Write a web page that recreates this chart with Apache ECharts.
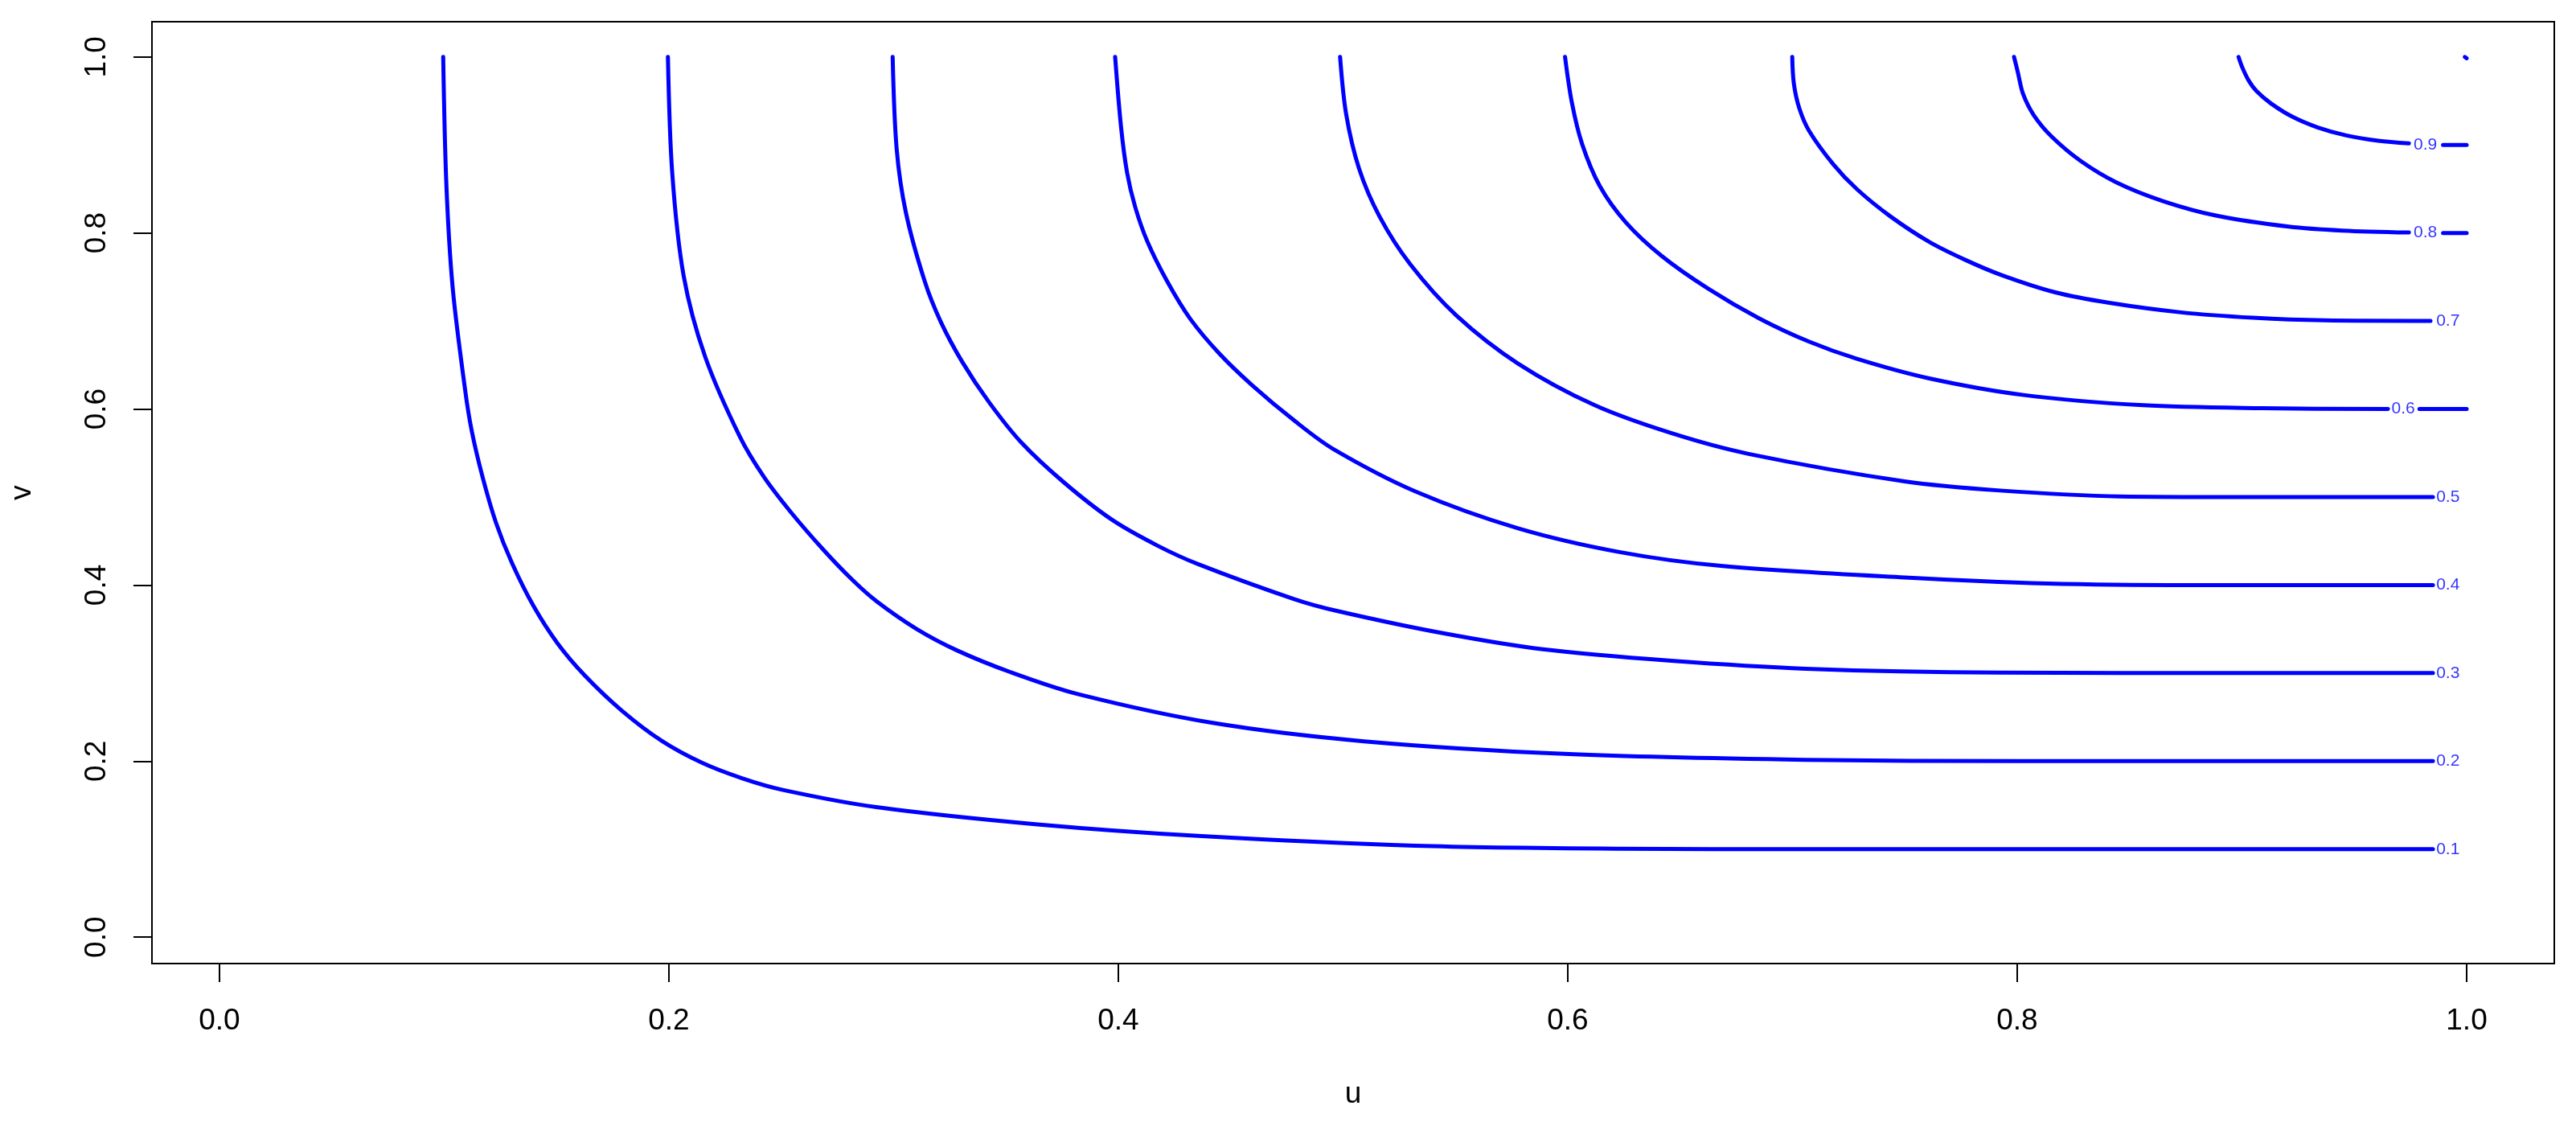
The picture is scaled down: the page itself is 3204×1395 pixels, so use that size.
<!DOCTYPE html>
<html>
<head>
<meta charset="utf-8">
<title>contour u v</title>
<script src="https://cdn.jsdelivr.net/npm/echarts@6/dist/echarts.min.js"></script>
<style>
html, body { margin: 0; padding: 0; background: #fff; }
#chart { width: 3204px; height: 1395px; }
</style>
</head>
<body>
<div id="chart"></div>
<script>
// contour levels and the points (u, v)
var levels = [0.1, 0.2, 0.3, 0.4, 0.5, 0.6, 0.7, 0.8, 0.9, 1.0];

var u1 = [0.0996, 0.1010, 0.1038, 0.1094, 0.1123, 0.1171, 0.1231, 0.1302, 0.1398, 0.1505, 0.1624, 0.1791, 0.1970, 0.2149, 0.2328, 0.2507, 0.2924, 0.3640, 0.4355, 0.5322, 0.6235, 0.706, 0.800, 0.985];
var v1 = [1.000, 0.8557, 0.7383, 0.6208, 0.5751, 0.5229, 0.4707, 0.4250, 0.3761, 0.3337, 0.2978, 0.2573, 0.2227, 0.1979, 0.1803, 0.1673, 0.1477, 0.1281, 0.1150, 0.1039, 0.1005, 0.1000, 0.1000, 0.1000];

var u2 = [0.1996, 0.2015, 0.2066, 0.2161, 0.2316, 0.2423, 0.2542, 0.2686, 0.2817, 0.2924, 0.3103, 0.3282, 0.3521, 0.3819, 0.4415, 0.5094, 0.6006, 0.7056, 0.800, 0.985];
var v2 = [1.000, 0.8688, 0.7513, 0.6599, 0.5686, 0.5229, 0.4831, 0.4406, 0.4058, 0.3816, 0.3500, 0.3258, 0.3010, 0.2762, 0.2436, 0.2225, 0.2080, 0.2015, 0.2000, 0.2000];

var u3 = [0.2996, 0.3014, 0.3055, 0.3139, 0.3210, 0.3306, 0.3425, 0.3568, 0.3759, 0.3973, 0.4176, 0.4355, 0.4785, 0.498, 0.544, 0.589, 0.646, 0.706, 0.792, 0.900, 0.985];
var v3 = [1.000, 0.8949, 0.8231, 0.7448, 0.6991, 0.6534, 0.6077, 0.5621, 0.5164, 0.4740, 0.4446, 0.4238, 0.3839, 0.3702, 0.3455, 0.327, 0.314, 0.305, 0.3005, 0.300, 0.300];

var u4 = [0.3986, 0.4012, 0.4039, 0.4075, 0.4129, 0.4218, 0.4320, 0.4451, 0.4594, 0.4785, 0.4957, 0.5322, 0.5779, 0.6235, 0.6691, 0.7499, 0.8136, 0.8772, 0.985];
var v4 = [1.000, 0.9211, 0.8688, 0.8297, 0.7905, 0.7448, 0.7025, 0.6626, 0.6274, 0.5865, 0.5545, 0.5064, 0.4645, 0.4373, 0.4216, 0.4086, 0.4018, 0.4000, 0.400];

var u5 = [0.4987, 0.5014, 0.5071, 0.5162, 0.5299, 0.5504, 0.5779, 0.6120, 0.6463, 0.6805, 0.7499, 0.7923, 0.8454, 0.8984, 0.985];
var v5 = [1.000, 0.9349, 0.8735, 0.8190, 0.7645, 0.7064, 0.6516, 0.6043, 0.5724, 0.5490, 0.5178, 0.5074, 0.5007, 0.5000, 0.500];

var u6 = [0.5988, 0.6018, 0.6064, 0.6143, 0.6258, 0.6417, 0.6622, 0.6851, 0.7074, 0.7287, 0.7605, 0.8029, 0.8560, 0.9091, 0.9650, 0.9790, 1.000];
var v6 = [1.000, 0.9486, 0.9010, 0.8531, 0.8122, 0.7741, 0.7372, 0.7031, 0.6765, 0.6570, 0.6350, 0.6159, 0.6043, 0.6009, 0.6000, 0.6000, 0.6000];

var u7 = [0.6999, 0.7006, 0.7030, 0.7074, 0.7181, 0.7287, 0.7435, 0.7611, 0.7771, 0.7931, 0.8170, 0.8410, 0.8729, 0.9049, 0.9368, 0.9839];
var v7 = [1.000, 0.9700, 0.9420, 0.9160, 0.8782, 0.8497, 0.8190, 0.7895, 0.7692, 0.7521, 0.7325, 0.7206, 0.7098, 0.7037, 0.7007, 0.7001];

var u8 = [0.7986, 0.8003, 0.8026, 0.8074, 0.8154, 0.8282, 0.8441, 0.8649, 0.8889, 0.9208, 0.9448, 0.9743, 0.9895, 1.000];
var v8 = [1.000, 0.9824, 0.9580, 0.9337, 0.9093, 0.8819, 0.8575, 0.8362, 0.8195, 0.8072, 0.8027, 0.8005, 0.8000, 0.8000];

var u9 = [0.8985, 0.9001, 0.9030, 0.9065, 0.9128, 0.9224, 0.9336, 0.9464, 0.9607, 0.9743, 0.9895, 1.000];
var v9 = [1.000, 0.9885, 0.9732, 0.9611, 0.9474, 0.9321, 0.9200, 0.9108, 0.9047, 0.9017, 0.9000, 0.9000];

var u10 = [0.9992, 1.000];
var v10 = [1.000, 0.9985];

// where the label sits on each curve, and the gap cut in the line for it
var labelU = [0.9917, 0.9917, 0.9917, 0.9917, 0.9917, 0.9718, 0.9917, 0.9816, 0.9816];
var gapFrom = [null, null, null, null, null, 0.965, null, 0.9743, 0.9743];
var gapTo = [null, null, null, null, null, 0.979, null, 0.9895, 0.9895];

var tickValues = [0, 0.2, 0.4, 0.6, 0.8, 1.0];

var curvesU = [u1, u2, u3, u4, u5, u6, u7, u8, u9, u10];
var curvesV = [v1, v2, v3, v4, v5, v6, v7, v8, v9, v10];

var blue = '#0000ff';
var fontName = '"Liberation Sans", Arial, Helvetica, sans-serif';

// split a curve into segments at the label gap
function segments(us, vs, lo, hi) {
    var segs = [], cur = [];
    for (var i = 0; i < us.length; i++) {
        if (lo != null && us[i] >= hi && cur.length && cur[cur.length - 1][0] <= lo) {
            segs.push(cur);
            cur = [];
        }
        cur.push([us[i], vs[i]]);
    }
    segs.push(cur);
    return segs;
}

var series = [];
for (var k = 0; k < curvesU.length; k++) {
    var segs = segments(curvesU[k], curvesV[k], gapFrom[k], gapTo[k]);
    for (var s = 0; s < segs.length; s++) {
        series.push({
            type: 'line',
            data: segs[s],
            showSymbol: false,
            symbol: 'none',
            silent: true,
            smooth: 0.32,
            lineStyle: { color: blue, width: 5, cap: 'round', join: 'round' },
            z: 2
        });
    }
}

var labelData = [];
for (var j = 0; j < labelU.length; j++) {
    labelData.push({ value: [labelU[j], levels[j]], name: levels[j].toFixed(1) });
}
series.push({
    type: 'scatter',
    data: labelData,
    symbolSize: 1,
    silent: true,
    itemStyle: { color: 'rgba(0,0,0,0)' },
    label: {
        show: true,
        position: 'inside',
        formatter: function (p) { return p.name; },
        color: blue,
        fontSize: 21,
        fontFamily: fontName
    },
    z: 3
});

var fmt = function (v) { return v.toFixed(1); };

var myChart = echarts.init(document.getElementById('chart'), null, { renderer: 'canvas' });
myChart.setOption({
    animation: false,
    backgroundColor: '#ffffff',
    grid: {
        left: 189, top: 27, width: 2988, height: 1171,
        show: true, borderColor: '#000', borderWidth: 2,
        outerBoundsMode: 'none'
    },
    xAxis: {
        type: 'value',
        min: -0.03, max: 1.039,
        splitLine: { show: false },
        axisLine: { show: false, onZero: false },
        axisTick: { show: true, customValues: tickValues, length: 23, lineStyle: { color: '#000', width: 2 } },
        axisLabel: { customValues: tickValues, formatter: fmt, fontSize: 37, color: '#000', margin: 53, fontFamily: fontName },
        name: 'u',
        nameLocation: 'middle',
        nameGap: 144,
        nameTextStyle: { fontSize: 37, color: '#000', fontFamily: fontName }
    },
    yAxis: {
        type: 'value',
        min: -0.03, max: 1.04,
        splitLine: { show: false },
        axisLine: { show: false, onZero: false },
        axisTick: { show: true, customValues: tickValues, length: 23, lineStyle: { color: '#000', width: 2 } },
        axisLabel: { customValues: tickValues, formatter: fmt, rotate: 90, fontSize: 37, color: '#000', margin: 50, fontFamily: fontName },
        name: 'v',
        nameLocation: 'middle',
        nameGap: 143,
        nameTextStyle: { fontSize: 37, color: '#000', fontFamily: fontName }
    },
    series: series
});

window.onresize = function () {
    myChart.resize();
};
</script>
</body>
</html>
